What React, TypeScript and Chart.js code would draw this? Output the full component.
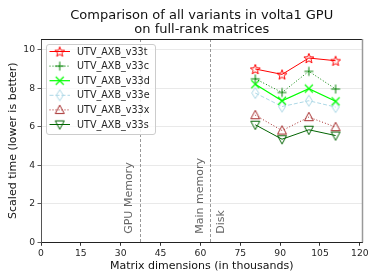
import React, { useEffect, useRef } from "react";
import { Chart, registerables } from "chart.js";
Chart.register(...registerables);

const FONT = '"DejaVu Sans", sans-serif';

// ---- data ----
const titleLines = ["Comparison of all variants in volta1 GPU", "on full-rank matrices"];
const xTitle = "Matrix dimensions (in thousands)";
const yTitle = "Scaled time (lower is better)";
const xDims = [80.64, 90.72, 100.8, 110.88];
const seriesNames = ["UTV_AXB_v33t", "UTV_AXB_v33c", "UTV_AXB_v33d", "UTV_AXB_v33e", "UTV_AXB_v33x", "UTV_AXB_v33s"];
const v33t = [9.01, 8.73, 9.58, 9.44];
const v33c = [8.5, 7.79, 8.89, 7.97];
const v33d = [8.22, 7.36, 7.99, 7.33];
const v33e = [7.76, 7.06, 7.36, 7.03];
const v33x = [6.61, 5.81, 6.51, 5.99];
const v33s = [6.11, 5.36, 5.85, 5.55];
const seriesValues = [v33t, v33c, v33d, v33e, v33x, v33s];
const seriesColors = ["#ff0000", "#008000", "#00ff00", "#add8e6", "#a52a2a", "#006400"];
const seriesDash = [[], [1, 2], [], [4, 2], [1, 2], []];
const seriesMarkers = ["star", "plus", "x", "thin_diamond", "triangle_up", "triangle_down"];
const boundaryX = [37.2, 63.7];
const boundaryLabels = [
  { text: "GPU Memory", at: 0, side: -1 },
  { text: "Main memory", at: 1, side: -1 },
  { text: "Disk", at: 1, side: 1 },
];
const xTicksStep = 15;
const yTicksStep = 2;

function makeMarker(kind: string, color: string): HTMLCanvasElement {
  const S = 14;
  const c = document.createElement("canvas");
  c.width = S;
  c.height = S;
  const g = c.getContext("2d")!;
  g.strokeStyle = color;
  g.lineWidth = 1;
  const m = S / 2;
  g.beginPath();
  if (kind === "star") {
    const R = 5.2, r = 2.2;
    for (let i = 0; i < 10; i++) {
      const a = -Math.PI / 2 + (i * Math.PI) / 5;
      const rr = i % 2 === 0 ? R : r;
      const px = m + rr * Math.cos(a), py = m + 0.6 + rr * Math.sin(a);
      if (i === 0) g.moveTo(px, py); else g.lineTo(px, py);
    }
    g.closePath();
  } else if (kind === "plus") {
    g.moveTo(m - 4.5, m); g.lineTo(m + 4.5, m);
    g.moveTo(m, m - 4.5); g.lineTo(m, m + 4.5);
  } else if (kind === "x") {
    g.lineWidth = 1.2;
    g.moveTo(m - 4, m - 4); g.lineTo(m + 4, m + 4);
    g.moveTo(m - 4, m + 4); g.lineTo(m + 4, m - 4);
  } else if (kind === "thin_diamond") {
    g.moveTo(m, m - 5.5); g.lineTo(m + 3.5, m); g.lineTo(m, m + 5.5); g.lineTo(m - 3.5, m);
    g.closePath();
  } else if (kind === "triangle_up") {
    g.moveTo(m, m - 4.8); g.lineTo(m + 4.5, m + 3.6); g.lineTo(m - 4.5, m + 3.6);
    g.closePath();
  } else if (kind === "triangle_down") {
    g.moveTo(m, m + 4.8); g.lineTo(m + 4.5, m - 3.6); g.lineTo(m - 4.5, m - 3.6);
    g.closePath();
  }
  g.stroke();
  return c;
}

export default function App() {
  const ref = useRef<HTMLCanvasElement>(null);
  useEffect(() => {
    document.body.style.margin = "0";
    const markers = seriesMarkers.map((k, i) => makeMarker(k, seriesColors[i]));
    const datasets = seriesNames.map((name, i) => ({
      label: name,
      data: xDims.map((x, j) => ({ x, y: seriesValues[i][j] })),
      showLine: true,
      borderColor: seriesColors[i],
      backgroundColor: seriesColors[i],
      borderWidth: i === 2 ? 1.2 : 1,
      borderDash: seriesDash[i],
      pointStyle: markers[i] as any,
      pointRadius: 5,
      pointHoverRadius: 5,
      tension: 0,
    }));

    const deco = {
      id: "deco",
      beforeDatasetsDraw(chart: any) {
        const { ctx, chartArea: a, scales } = chart;
        ctx.save();
        ctx.strokeStyle = "#999999";
        ctx.lineWidth = 1;
        ctx.setLineDash([3, 2]);
        boundaryX.forEach((bx) => {
          const px = Math.round(scales.x.getPixelForValue(bx)) + 0.5;
          ctx.beginPath();
          ctx.moveTo(px, a.top);
          ctx.lineTo(px, a.bottom);
          ctx.stroke();
        });
        ctx.setLineDash([]);
        ctx.fillStyle = "#666666";
        ctx.font = `11px ${FONT}`;
        ctx.textAlign = "left";
        ctx.textBaseline = "middle";
        boundaryLabels.forEach((lb) => {
          const px = scales.x.getPixelForValue(boundaryX[lb.at]) + lb.side * 10.5;
          ctx.save();
          ctx.translate(px, a.bottom - 8.5);
          ctx.rotate(-Math.PI / 2);
          ctx.fillText(lb.text, 0, 0);
          ctx.restore();
        });
        ctx.restore();
      },
      afterDatasetsDraw(chart: any) {
        const { ctx, chartArea: a } = chart;
        ctx.save();
        // top and right spines
        ctx.lineWidth = 1;
        ctx.strokeStyle = "#222222";
        ctx.beginPath();
        ctx.moveTo(a.left, a.top + 0.5);
        ctx.lineTo(a.right, a.top + 0.5);
        ctx.stroke();
        ctx.strokeStyle = "#999999";
        ctx.lineWidth = 1.5;
        ctx.beginPath();
        ctx.moveTo(a.right, a.top);
        ctx.lineTo(a.right, a.bottom);
        ctx.stroke();

        // legend
        const lx = a.left + 5, ly = a.top + 5, lw = 109, lh = 90;
        ctx.fillStyle = "rgba(255,255,255,0.8)";
        ctx.strokeStyle = "#cccccc";
        ctx.lineWidth = 1;
        ctx.beginPath();
        (ctx as any).roundRect(lx + 0.5, ly + 0.5, lw, lh, 2.5);
        ctx.fill();
        ctx.stroke();
        ctx.font = `9.6px ${FONT}`;
        ctx.textAlign = "left";
        ctx.textBaseline = "middle";
        seriesNames.forEach((name, i) => {
          const cy = ly + 7.5 + i * 14.6;
          ctx.strokeStyle = seriesColors[i];
          ctx.lineWidth = i === 2 ? 1.2 : 1;
          ctx.setLineDash(seriesDash[i]);
          ctx.beginPath();
          ctx.moveTo(lx + 3.5, cy);
          ctx.lineTo(lx + 24, cy);
          ctx.stroke();
          ctx.setLineDash([]);
          const mk = markers[i];
          ctx.drawImage(mk, lx + 13.75 - mk.width / 2, cy - mk.height / 2);
          ctx.fillStyle = "#262626";
          ctx.fillText(name, lx + 31, cy + 0.5);
        });
        ctx.restore();
      },
      afterDraw(chart: any) {
        const { ctx, chartArea: a } = chart;
        ctx.save();
        const cx = (a.left + a.right) / 2;
        ctx.fillStyle = "#111111";
        ctx.textAlign = "center";
        ctx.textBaseline = "middle";
        ctx.font = `13px ${FONT}`;
        ctx.fillText(titleLines[0], cx, 15.5);
        ctx.fillText(titleLines[1], cx, 30);
        ctx.font = `11px ${FONT}`;
        ctx.fillStyle = "#111111";
        ctx.fillText(xTitle, cx, 266);
        ctx.save();
        ctx.translate(13.5, (a.top + a.bottom) / 2);
        ctx.rotate(-Math.PI / 2);
        ctx.fillText(yTitle, 0, 0);
        ctx.restore();
        ctx.restore();
      },
    };

    const chart = new Chart(ref.current!, {
      type: "scatter",
      data: { datasets: datasets as any },
      options: {
        animation: false,
        responsive: false,
        devicePixelRatio: 1,
        layout: { padding: { top: 39, right: 11.5, left: 0, bottom: 0 } },
        plugins: { legend: { display: false }, title: { display: false }, tooltip: { enabled: false } },
        scales: {
          x: {
            type: "linear",
            min: 0,
            max: 121,
            afterFit: (s: any) => { s.height = 37.7; },
            grid: { drawOnChartArea: false, drawTicks: true, tickLength: 3.5, tickColor: "#333333" },
            border: { color: "#222222", width: 1 },
            ticks: { stepSize: xTicksStep, includeBounds: false, color: "#262626", font: { family: FONT, size: 9.2 }, padding: 2, maxRotation: 0 },
          },
          y: {
            type: "linear",
            min: 0,
            max: 10.57,
            afterFit: (s: any) => { s.width = 41; },
            grid: { color: "#e3e3e3", lineWidth: 0.8, tickLength: 3.5, tickColor: "#333333" },
            border: { color: "#555555", width: 1 },
            ticks: { stepSize: yTicksStep, includeBounds: false, color: "#262626", font: { family: FONT, size: 9.2 }, padding: 2.5 },
          },
        },
      } as any,
      plugins: [deco],
    });
    return () => chart.destroy();
  }, []);
  return (
    <div style={{ position: "absolute", left: 0, top: 0, width: 374, height: 280 }}>
      <canvas ref={ref} width={374} height={280} style={{ width: 374, height: 280, display: "block" }} />
    </div>
  );
}
